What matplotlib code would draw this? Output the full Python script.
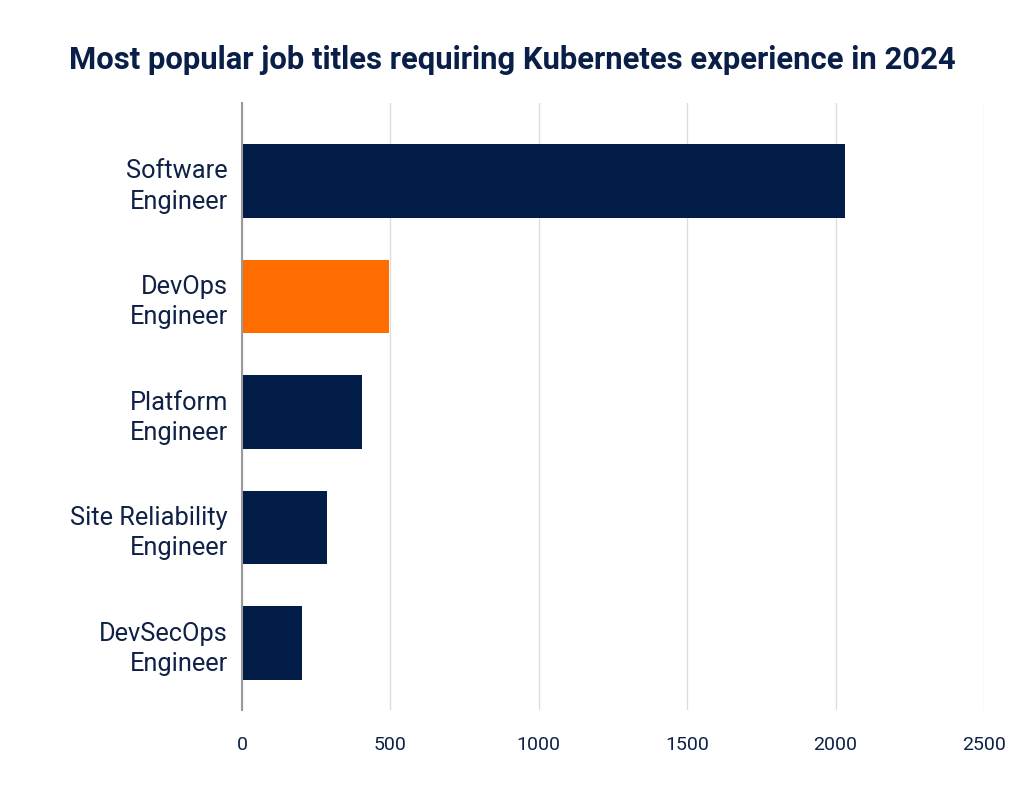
import matplotlib
matplotlib.use("Agg")
import matplotlib.pyplot as plt

# ── Data ──────────────────────────────────────────────────────────────────────
titles = ["Software\nEngineer", "DevOps\nEngineer", "Platform\nEngineer",
          "Site Reliability\nEngineer", "DevSecOps\nEngineer"]
counts = [2032, 497, 404, 286, 202]
highlight = "DevOps\nEngineer"
x_ticks = [0, 500, 1000, 1500, 2000, 2500]

NAVY = "#011d47"
ORANGE = "#ff6d00"
TEXT = "#0f2147"

plt.rcParams["font.family"] = ["Roboto", "DejaVu Sans"]

fig = plt.figure(figsize=(10.24, 7.96), dpi=100)
ax = fig.add_axes([0.2363, 0.108, 0.7246, 0.7626])

colors = [ORANGE if t == highlight else NAVY for t in titles]
ax.barh(range(len(titles)), counts, height=0.64, color=colors, zorder=3)

ax.set_xlim(0, 2500)
ax.set_ylim(len(titles) - 1 + 0.58, -0.675)
ax.set_xticks(x_ticks)
ax.set_xticklabels([str(v) for v in x_ticks], fontsize=14, color=TEXT)
ax.set_yticks(range(len(titles)))
ax.set_yticklabels(titles, fontsize=18.3, color=TEXT, linespacing=1.32)
ax.tick_params(axis="both", length=0)
ax.tick_params(axis="x", pad=19)
ax.tick_params(axis="y", pad=10)

ax.grid(axis="x", color="#dcdcdc", linewidth=1, zorder=0)
for side in ["top", "right", "bottom"]:
    ax.spines[side].set_visible(False)
ax.spines["left"].set_color("#9a9a9a")
ax.spines["left"].set_linewidth(1.5)
ax.spines["left"].set_zorder(4)

fig.text(0.5005, 0.925, "Most popular job titles requiring Kubernetes experience in 2024",
         ha="center", va="center", fontsize=22.3, fontweight="bold", color="#0a1f47")

fig.savefig("out.png", dpi=100, facecolor="white")
